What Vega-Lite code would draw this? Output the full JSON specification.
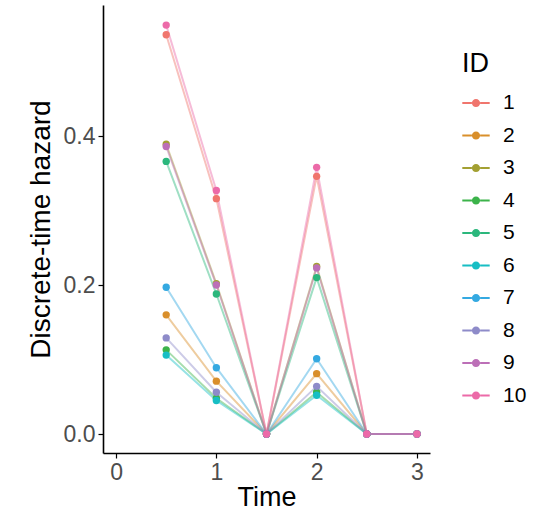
{
  "$schema": "https://vega.github.io/schema/vega-lite/v6.json",
  "autosize": "none",
  "width": 327,
  "height": 448,
  "padding": {"left": 103, "top": 5, "right": 112, "bottom": 63},
  "background": "white",
  "config": {
    "font": "Liberation Sans",
    "view": {"stroke": null}
  },
  "data": {
    "values": [
      {"ID": "1", "Time": 0.5, "hazard": 0.536}, {"ID": "1", "Time": 1, "hazard": 0.316}, {"ID": "1", "Time": 1.5, "hazard": 0}, {"ID": "1", "Time": 2, "hazard": 0.346}, {"ID": "1", "Time": 2.5, "hazard": 0}, {"ID": "1", "Time": 3, "hazard": 0},
      {"ID": "2", "Time": 0.5, "hazard": 0.160}, {"ID": "2", "Time": 1, "hazard": 0.071}, {"ID": "2", "Time": 1.5, "hazard": 0}, {"ID": "2", "Time": 2, "hazard": 0.081}, {"ID": "2", "Time": 2.5, "hazard": 0}, {"ID": "2", "Time": 3, "hazard": 0},
      {"ID": "3", "Time": 0.5, "hazard": 0.389}, {"ID": "3", "Time": 1, "hazard": 0.202}, {"ID": "3", "Time": 1.5, "hazard": 0}, {"ID": "3", "Time": 2, "hazard": 0.225}, {"ID": "3", "Time": 2.5, "hazard": 0}, {"ID": "3", "Time": 3, "hazard": 0},
      {"ID": "4", "Time": 0.5, "hazard": 0.113}, {"ID": "4", "Time": 1, "hazard": 0.048}, {"ID": "4", "Time": 1.5, "hazard": 0}, {"ID": "4", "Time": 2, "hazard": 0.056}, {"ID": "4", "Time": 2.5, "hazard": 0}, {"ID": "4", "Time": 3, "hazard": 0},
      {"ID": "5", "Time": 0.5, "hazard": 0.366}, {"ID": "5", "Time": 1, "hazard": 0.188}, {"ID": "5", "Time": 1.5, "hazard": 0}, {"ID": "5", "Time": 2, "hazard": 0.210}, {"ID": "5", "Time": 2.5, "hazard": 0}, {"ID": "5", "Time": 3, "hazard": 0},
      {"ID": "6", "Time": 0.5, "hazard": 0.106}, {"ID": "6", "Time": 1, "hazard": 0.045}, {"ID": "6", "Time": 1.5, "hazard": 0}, {"ID": "6", "Time": 2, "hazard": 0.052}, {"ID": "6", "Time": 2.5, "hazard": 0}, {"ID": "6", "Time": 3, "hazard": 0},
      {"ID": "7", "Time": 0.5, "hazard": 0.197}, {"ID": "7", "Time": 1, "hazard": 0.089}, {"ID": "7", "Time": 1.5, "hazard": 0}, {"ID": "7", "Time": 2, "hazard": 0.101}, {"ID": "7", "Time": 2.5, "hazard": 0}, {"ID": "7", "Time": 3, "hazard": 0},
      {"ID": "8", "Time": 0.5, "hazard": 0.129}, {"ID": "8", "Time": 1, "hazard": 0.056}, {"ID": "8", "Time": 1.5, "hazard": 0}, {"ID": "8", "Time": 2, "hazard": 0.064}, {"ID": "8", "Time": 2.5, "hazard": 0}, {"ID": "8", "Time": 3, "hazard": 0},
      {"ID": "9", "Time": 0.5, "hazard": 0.386}, {"ID": "9", "Time": 1, "hazard": 0.200}, {"ID": "9", "Time": 1.5, "hazard": 0}, {"ID": "9", "Time": 2, "hazard": 0.223}, {"ID": "9", "Time": 2.5, "hazard": 0}, {"ID": "9", "Time": 3, "hazard": 0},
      {"ID": "10", "Time": 0.5, "hazard": 0.549}, {"ID": "10", "Time": 1, "hazard": 0.327}, {"ID": "10", "Time": 1.5, "hazard": 0}, {"ID": "10", "Time": 2, "hazard": 0.358}, {"ID": "10", "Time": 2.5, "hazard": 0}, {"ID": "10", "Time": 3, "hazard": 0}
    ]
  },
  "encoding": {
    "x": {
      "field": "Time", "type": "quantitative",
      "scale": {"domain": [-0.13, 3.13], "nice": false, "zero": false},
      "axis": {
        "values": [0, 1, 2, 3], "format": "d", "title": "Time",
        "grid": false, "domainColor": "black", "domainWidth": 1.6, "tickColor": "black", "tickWidth": 1.2, "tickSize": 5,
        "labelColor": "#4D4D4D", "labelFontSize": 23, "labelFont": "Liberation Sans", "labelPadding": 3,
        "titleFont": "Liberation Sans", "titleFontSize": 27, "titleFontWeight": "normal", "titleColor": "black", "titlePadding": 0
      }
    },
    "y": {
      "field": "hazard", "type": "quantitative",
      "scale": {"domain": [-0.0255, 0.576], "nice": false, "zero": false},
      "axis": {
        "values": [0, 0.2, 0.4], "format": ".1f", "title": "Discrete-time hazard",
        "grid": false, "domainColor": "black", "domainWidth": 1.6, "tickColor": "black", "tickWidth": 1.2, "tickSize": 5,
        "labelColor": "#4D4D4D", "labelFontSize": 23, "labelFont": "Liberation Sans", "labelPadding": 3,
        "titleFont": "Liberation Sans", "titleFontSize": 28, "titleFontWeight": "normal", "titleColor": "black", "titlePadding": 8
      }
    },
    "color": {
      "field": "ID", "type": "nominal",
      "scale": {
        "domain": ["1", "2", "3", "4", "5", "6", "7", "8", "9", "10"],
        "range": ["#F0756D", "#D98F2B", "#A3A032", "#3CB34A", "#2BB77C", "#17BEC4", "#34A9E1", "#8E8BC9", "#BC6FB7", "#EC6AA8"]
      },
      "legend": {
        "title": "ID",
        "orient": "none",
        "legendX": 359,
        "legendY": 46,
        "titleFont": "Liberation Sans",
        "titleFontSize": 27,
        "titleFontWeight": "normal",
        "titleColor": "black",
        "titlePadding": 11,
        "labelFont": "Liberation Sans",
        "labelFontSize": 21,
        "labelColor": "black",
        "labelOffset": 13,
        "rowPadding": 8.5,
        "symbolType": "M -1 -0.07 L -0.3 -0.07 L -0.3 0.07 L -1 0.07 Z M 0.3 -0.07 L 1 -0.07 L 1 0.07 L 0.3 0.07 Z M -0.3 0 A 0.3 0.3 0 1 1 0.3 0 A 0.3 0.3 0 1 1 -0.3 0 Z",
        "symbolSize": 750,
        "symbolStrokeWidth": 0,
        "symbolOpacity": 1,
        "offset": 0
      }
    }
  },
  "layer": [
    {"mark": {"type": "line", "strokeWidth": 2, "opacity": 0.45}},
    {"mark": {"type": "circle", "size": 54, "opacity": 1}}
  ]
}
